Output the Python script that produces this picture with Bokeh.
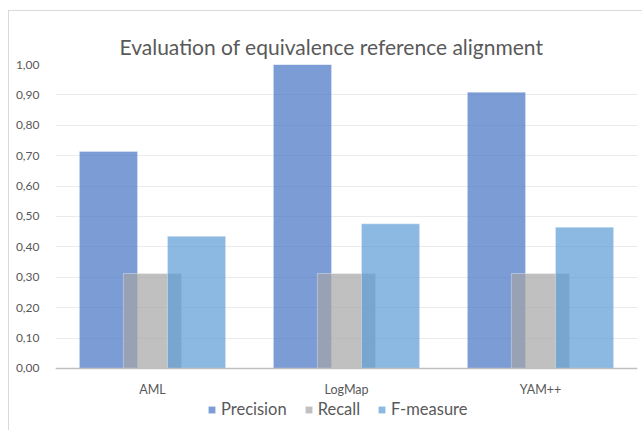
from bokeh.plotting import figure
from bokeh.models import (FactorRange, Range1d, CustomJSTickFormatter, FixedTicker,
                          Legend, LegendItem, ColumnDataSource, Span)
from bokeh.core.properties import value
from bokeh.transform import dodge
from bokeh.embed import file_html
from bokeh.resources import INLINE

# ---- data ----
tools = ["AML", "LogMap", "YAM++"]
precision = [0.714, 1.000, 0.909]
recall = [0.3125, 0.3125, 0.3125]
fmeasure = [0.435, 0.476, 0.465]
series_names = ["Precision", "Recall", "F-measure"]
y_ticks = [0.0, 0.1, 0.2, 0.3, 0.4, 0.5, 0.6, 0.7, 0.8, 0.9, 1.0]
title_text = "Evaluation of equivalence reference alignment"

colors = ["#4472C4", "#A5A5A5", "#5B9BD5"]
FONT = "Lato"
TXT = "#595959"

src = ColumnDataSource(dict(tool=tools, precision=precision, recall=recall, fmeasure=fmeasure))

# frame extends below zero to host category labels and the legend
p = figure(x_range=FactorRange(*tools), y_range=Range1d(-0.1908, 1.0),
           width=634, height=420, output_backend="svg", toolbar_location=None,
           min_border_left=46, min_border_right=6, min_border_top=53, min_border_bottom=5)

p.styles = {"border-top": "1px solid #D9D9D9", "border-left": "1px solid #D9D9D9",
            "margin-left": "8px", "margin-top": "10px"}

p.title.text = title_text
p.title.text_font = FONT
p.title.text_font_size = "21px"
p.title.text_font_style = "normal"
p.title.text_color = TXT
p.title.align = "left"
p.title.offset = 64
p.title.vertical_align = "middle"
p.title.standoff = 10

p.outline_line_color = None
p.background_fill_color = "white"
p.border_fill_color = "white"

keys = ["precision", "recall", "fmeasure"]
offsets = [-0.227, 0.0, 0.227]
renderers = []
for k, off, c in zip(keys, offsets, colors):
    r = p.vbar(x=dodge("tool", off, range=p.x_range), top=k, bottom=0, width=0.30, source=src,
               fill_color=c, fill_alpha=0.7, line_color="white", line_alpha=0.35, line_width=1)
    renderers.append(r)

p.xgrid.grid_line_color = None
p.ygrid.grid_line_color = "#EBEBEB"
p.ygrid.grid_line_width = 1

p.yaxis.ticker = FixedTicker(ticks=y_ticks)
p.yaxis.formatter = CustomJSTickFormatter(code="return tick.toFixed(2).replace('.', ',');")
p.yaxis.axis_line_color = None
p.yaxis.major_tick_line_color = None
p.yaxis.minor_tick_line_color = None
p.yaxis.major_label_text_font = FONT
p.yaxis.major_label_text_font_size = "12px"
p.yaxis.major_label_text_color = TXT
p.yaxis.major_label_standoff = 10

p.xaxis.visible = False

# category axis baseline at zero
p.add_layout(Span(location=0, dimension="width", line_color="#BFBFBF", line_width=1.5))

# category labels
p.text(x="tool", y=0, text="tool", source=src, y_offset=14,
       text_font=value(FONT), text_font_size="12.5px", text_color=TXT,
       text_align="center", text_baseline="top")

legend = Legend(items=[LegendItem(label=n, renderers=[r]) for n, r in zip(series_names, renderers)],
                orientation="horizontal", location=(152, 7))
legend.label_text_font = FONT
legend.label_text_font_size = "16.5px"
legend.label_text_color = TXT
legend.glyph_width = 9
legend.glyph_height = 9
legend.label_standoff = 5
legend.spacing = 17
legend.padding = 0
legend.margin = 0
legend.border_line_color = None
legend.background_fill_alpha = 0
p.add_layout(legend, "center")

open("out.html", "w").write(file_html(p, INLINE))
